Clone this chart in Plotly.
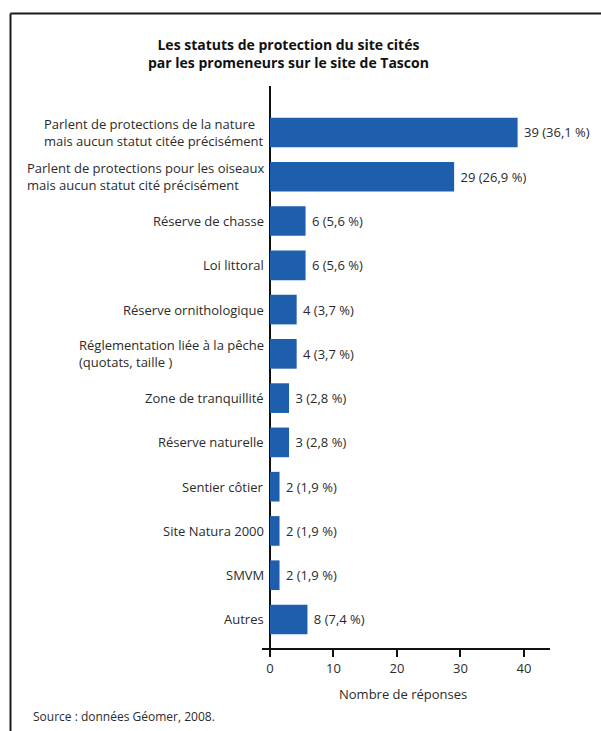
import plotly.graph_objects as go

# ---- data ----
categories = [
    "Parlent de protections de la nature<br>mais aucun statut citée précisément",
    "Parlent de protections pour les oiseaux<br>mais aucun statut cité précisément",
    "Réserve de chasse",
    "Loi littoral",
    "Réserve ornithologique",
    "Réglementation liée à la pêche<br>(quotats, taille )",
    "Zone de tranquillité",
    "Réserve naturelle",
    "Sentier côtier",
    "Site Natura 2000",
    "SMVM",
    "Autres",
]
# bar lengths as drawn in the picture
bar_lengths = [39, 29, 5.6, 5.6, 4.2, 4.2, 3, 3, 1.5, 1.5, 1.5, 5.9]
value_labels = ["39 (36,1 %)", "29 (26,9 %)", "6 (5,6 %)", "6 (5,6 %)", "4 (3,7 %)",
                "4 (3,7 %)", "3 (2,8 %)", "3 (2,8 %)", "2 (1,9 %)", "2 (1,9 %)",
                "2 (1,9 %)", "8 (7,4 %)"]
x_ticks = [0, 10, 20, 30, 40]

title_text = "Les statuts de protection du site cités<br>par les promeneurs sur le site de Tascon"
x_title = "Nombre de réponses"
source_text = "Source : données Géomer, 2008."

# ---- layout geometry ----
W, H = 601, 731
L, R, T, B = 262, 51, 86, 83
PW, PH = W - L - R, H - T - B
FONT = "Open Sans"
BLUE = "#1d5fad"
TXT = "#2b2b2b"

def px_x(px):
    return (px - L) / PW

def px_y(py):
    return (H - B - py) / PH

fig = go.Figure()
fig.add_trace(go.Bar(
    x=bar_lengths, y=categories, orientation="h",
    width=0.67,
    marker=dict(color=BLUE, line=dict(width=0)),
    text=["\u00a0" + t for t in value_labels],
    textposition="outside",
    textfont=dict(family=FONT, size=13, color=TXT),
    cliponaxis=False,
    hoverinfo="skip",
))

annotations = []
for c in categories:
    annotations.append(dict(
        x=px_x(266), xref="paper", y=c, yref="y",
        text=c, showarrow=False, xanchor="right", yanchor="middle",
        align="left", font=dict(family=FONT, size=13, color=TXT),
    ))
annotations.append(dict(
    x=px_x(403), xref="paper", y=px_y(694), yref="paper",
    text=x_title, showarrow=False, xanchor="center", yanchor="middle",
    font=dict(family=FONT, size=13, color=TXT),
))
annotations.append(dict(
    x=px_x(31), xref="paper", y=px_y(716), yref="paper",
    text=source_text, showarrow=False, xanchor="left", yanchor="middle",
    font=dict(family=FONT, size=12, color=TXT),
))
annotations.append(dict(
    x=px_x(288), xref="paper", y=px_y(54), yref="paper",
    text="<b>" + title_text + "</b>", showarrow=False, xanchor="center", yanchor="middle",
    align="center", font=dict(family=FONT, size=14, color="#111111"),
))

shapes = [
    dict(type="line", xref="paper", yref="paper",
         x0=px_x(10.5), x1=px_x(605), y0=px_y(13.5), y1=px_y(13.5),
         line=dict(color="#1a1a1a", width=2)),
    dict(type="line", xref="paper", yref="paper",
         x0=px_x(10.5), x1=px_x(10.5), y0=px_y(13.5), y1=px_y(735),
         line=dict(color="#1a1a1a", width=2)),
]

fig.update_layout(
    width=W, height=H,
    margin=dict(l=L, r=R, t=T, b=B, pad=0),
    paper_bgcolor="white", plot_bgcolor="white",
    showlegend=False,
    annotations=annotations,
    shapes=shapes,
    font=dict(family=FONT, size=13, color=TXT),
    xaxis=dict(
        range=[-1.26, 44.1], tickvals=x_ticks, ticktext=[str(v) for v in x_ticks],
        ticks="outside", ticklen=7, tickwidth=2, tickcolor="#111111",
        showline=True, linecolor="#111111", linewidth=2,
        showgrid=False, zeroline=True, zerolinecolor="#111111", zerolinewidth=2,
        tickfont=dict(family=FONT, size=13, color=TXT),
        fixedrange=True,
    ),
    yaxis=dict(
        type="category", categoryorder="array", categoryarray=categories,
        range=[11.644, -1.05],
        showticklabels=False, ticks="", showline=False, showgrid=False, zeroline=False,
        fixedrange=True,
    ),
)

fig.write_html("out.html", config={"displayModeBar": False},
               post_script="document.body.style.margin='0';")
